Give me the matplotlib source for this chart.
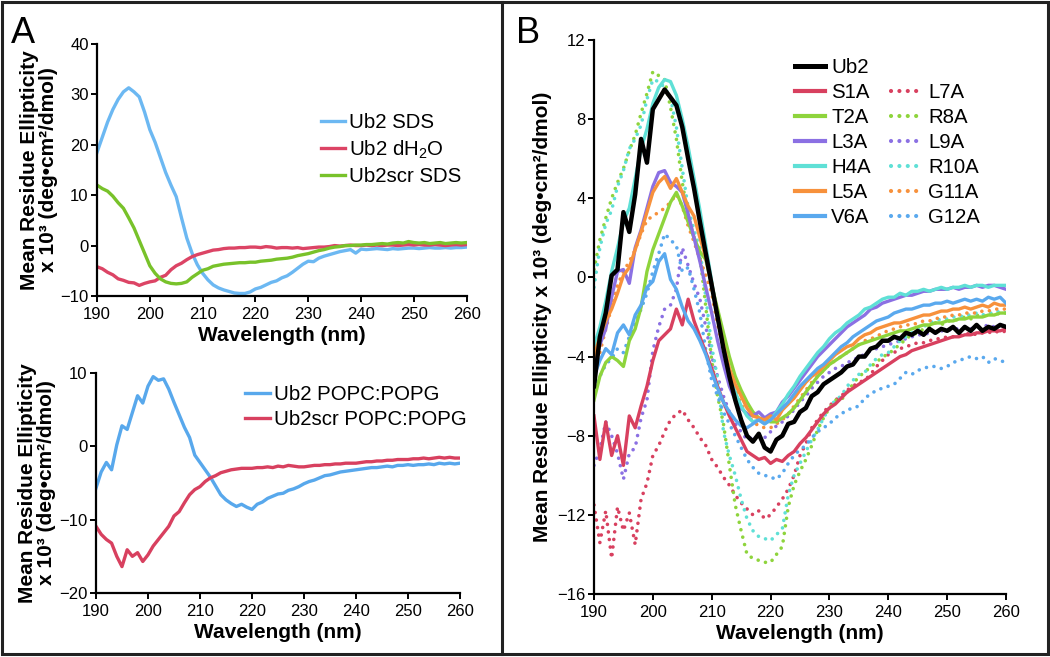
import numpy as np
import matplotlib
matplotlib.use("Agg")
import matplotlib.pyplot as plt
from matplotlib.lines import Line2D
from matplotlib.patches import Rectangle

plt.rcParams["font.family"] = ["Liberation Sans", "DejaVu Sans"]
plt.rcParams["mathtext.fontset"] = "custom"
plt.rcParams["mathtext.rm"] = "Liberation Sans"
plt.rcParams["mathtext.bf"] = "Liberation Sans:bold"

# wavelength grid, 190..260 nm in 1 nm steps
wl = np.arange(190, 261)

# ---- panel A top (SDS / water), x10^3 deg cm2/dmol ----
ub2_sds = [18.5, 21.5, 24.5, 27, 29, 30.5, 31.3, 30.5, 29.5, 26.5,
           23, 20.5, 17.5, 14.5, 12, 9.7, 5.5, 1.5, -1.5, -3.8,
           -5.5, -6.8, -7.8, -8.4, -8.8, -9.1, -9.4, -9.5, -9.5, -9.2,
           -8.6, -8.3, -7.8, -7.3, -7, -6.4, -6, -5.3, -4.5, -3.7,
           -3.1, -3.2, -2.5, -2.1, -1.8, -1.5, -1.2, -1.0, -0.8, -1.5,
           -0.7, -0.8, -0.7, -0.6, -0.7, -0.8, -0.6, -0.7, -0.6, -0.5,
           -0.5, -0.6, -0.5, -0.4, -0.5, -0.5, -0.4, -0.5, -0.4, -0.4,
           -0.3]
ub2_h2o = [-4.2, -4.6, -5.3, -5.8, -6.6, -6.9, -7.3, -7.4, -7.9, -7.5,
           -7.2, -7.0, -6.3, -5.9, -4.8, -4.0, -3.5, -2.8, -2.2, -1.8,
           -1.5, -1.2, -0.9, -0.8, -0.6, -0.5, -0.5, -0.4, -0.4, -0.3,
           -0.3, -0.4, -0.2, -0.3, -0.5, -0.4, -0.4, -0.5, -0.4, -0.6,
           -0.5, -0.4, -0.3, -0.3, -0.2, 0.0, -0.1, 0.0, 0.1, 0.0,
           0.0, 0.1, 0.0, 0.1, 0.0, 0.1, 0.1, 0.0, 0.1, 0.2,
           0.1, 0.2, 0.1, 0.1, 0.2, 0.1, 0.0, 0.1, 0.2, 0.1,
           0.2]
ub2scr_sds = [12, 11.3, 10.8, 9.8, 8.5, 7.4, 5.5, 3.5, 1.0, -1.5,
              -4.0, -5.5, -6.6, -7.2, -7.5, -7.6, -7.5, -7.2, -6.3, -5.6,
              -4.9, -4.6, -4.1, -3.9, -3.7, -3.6, -3.5, -3.4, -3.4, -3.3,
              -3.3, -3.1, -3.0, -2.9, -2.7, -2.6, -2.5, -2.3, -2.0, -1.8,
              -1.6, -1.3, -1.0, -0.8, -0.5, -0.3, -0.2, 0.0, 0.0, 0.1,
              0.1, 0.2, 0.2, 0.3, 0.4, 0.3, 0.5, 0.6, 0.5, 0.8,
              0.6, 0.5, 0.6, 0.4, 0.5, 0.6, 0.4, 0.5, 0.6, 0.5,
              0.6]

# ---- panel A bottom (POPC:POPG vesicles) ----
ub2_popc = [-5.7, -3.5, -2.2, -3.2, 0.2, 2.8, 2.3, 4.6, 6.9, 5.9,
            8.2, 9.5, 9.0, 9.2, 7.8, 6.0, 4.3, 2.6, 1.2, -1.2,
            -2.2, -3.2, -4.2, -5.4, -6.6, -7.3, -7.8, -8.2, -7.9, -8.3,
            -8.6, -7.9, -7.6, -7.1, -6.8, -6.5, -6.4, -6.0, -5.8, -5.5,
            -5.1, -4.8, -4.6, -4.3, -4.0, -3.9, -3.7, -3.5, -3.4, -3.3,
            -3.2, -3.1, -3.0, -2.9, -2.9, -2.8, -2.7, -2.8, -2.6, -2.6,
            -2.5, -2.6, -2.5, -2.5, -2.4, -2.5, -2.3, -2.4, -2.3, -2.4,
            -2.3]
ub2scr_popc = [-10.9, -12.0, -12.7, -13.2, -15.0, -16.4, -14.1, -15.0, -14.5, -15.7,
               -14.8, -13.6, -12.7, -11.8, -10.9, -9.5, -8.9, -7.7, -6.6, -5.9,
               -5.5, -4.8, -4.3, -4.0, -3.6, -3.4, -3.2, -3.1, -3.0, -3.0,
               -3.0, -2.9, -2.9, -2.8, -2.9, -2.7, -2.8, -2.6, -2.7, -2.8,
               -2.8, -2.7, -2.6, -2.6, -2.5, -2.5, -2.4, -2.4, -2.3, -2.3,
               -2.3, -2.2, -2.1, -2.1, -2.0, -2.0, -1.9, -1.9, -1.8, -1.8,
               -1.8, -1.7, -1.7, -1.6, -1.7, -1.6, -1.5, -1.6, -1.5, -1.6,
               -1.6]

# ---- panel B (alanine scan) ----
ub2 = [-5.5, -3.0, -1.8, 0.1, 0.4, 3.3, 2.3, 4.2, 7.0, 5.8,
       8.5, 9.0, 9.5, 9.1, 8.7, 7.6, 6.0, 4.5, 2.8, 1.2,
       -0.4, -2.0, -3.6, -5.0, -6.2, -7.2, -8.0, -8.3, -7.9, -8.6,
       -8.8, -8.2, -8.0, -7.4, -7.3, -6.8, -6.6, -6.0, -5.8, -5.4,
       -5.2, -5.0, -4.8, -4.5, -4.4, -4.0, -4.0, -3.6, -3.5, -3.2,
       -3.2, -3.0, -3.1, -2.8, -2.9, -2.7, -2.9, -2.6, -2.8, -2.6,
       -2.7, -2.5, -2.8, -2.5, -2.7, -2.4, -2.7, -2.5, -2.6, -2.4,
       -2.5]
s1a = [-7.0, -9.2, -7.3, -9.0, -8.0, -9.5, -7.0, -7.6, -6.5, -5.5,
       -4.2, -3.2, -2.9, -2.6, -1.6, -2.4, -1.1, -2.2, -3.0, -3.8,
       -4.6, -5.5, -6.3, -7.0, -7.6, -8.2, -8.8, -9.0, -9.2, -9.1,
       -9.4, -9.2, -9.3, -9.0, -8.8, -8.4, -8.1, -7.7, -7.3, -6.9,
       -6.6, -6.4, -6.1, -5.8, -5.6, -5.4, -5.2, -5.0, -4.8, -4.6,
       -4.4, -4.2, -4.0, -3.9, -3.7, -3.6, -3.5, -3.4, -3.3, -3.2,
       -3.1, -3.0, -3.0, -2.9, -2.9, -2.8, -2.8, -2.7, -2.7, -2.7,
       -2.6]
t2a = [-6.2, -5.0, -4.3, -4.0, -4.2, -4.5, -3.2, -2.6, -1.5, 0.3,
       1.4, 2.2, 3.0, 3.8, 4.3, 3.6, 2.8, 2.0, 1.3, 0.9,
       -0.4, -1.6, -2.8, -4.0, -5.0, -5.7, -6.3, -6.8, -7.1, -7.2,
       -7.3, -7.3, -7.1, -6.9, -6.6, -6.2, -5.8, -5.4, -5.0, -4.7,
       -4.4, -4.2, -4.0, -3.8, -3.6, -3.4, -3.3, -3.2, -3.1, -3.0,
       -2.9, -2.8, -2.7, -2.7, -2.6, -2.5, -2.4, -2.4, -2.3, -2.3,
       -2.2, -2.2, -2.1, -2.1, -2.0, -2.0, -2.0, -1.9, -1.9, -1.8,
       -1.8]
l3a = [-4.5, -3.4, -2.6, -1.0, 0.3, 0.4, -0.3, 1.5, 2.4, 3.5,
       4.6, 5.3, 5.4, 4.8, 4.6, 4.3, 3.2, 2.0, 0.8, -0.5,
       -1.8, -3.2, -4.4, -5.5, -6.2, -6.6, -6.9, -7.0, -6.8, -7.1,
       -6.9, -6.8, -6.3, -6.0, -5.6, -5.2, -4.8, -4.4, -4.0, -3.7,
       -3.4, -3.1, -2.8, -2.5, -2.3, -2.1, -1.9, -1.6, -1.5, -1.3,
       -1.2, -1.1, -1.0, -0.9, -0.9, -0.8, -0.7, -0.7, -0.6, -0.6,
       -0.6, -0.5, -0.6, -0.5, -0.5, -0.4, -0.5, -0.4, -0.4, -0.5,
       -0.6]
h4a = [-3.5, -2.5, -1.2, 0.3, 1.5, 2.8, 3.5, 5.0, 6.5, 7.5,
       8.8, 9.6, 10.0, 9.9, 9.2, 8.0, 6.6, 5.0, 3.4, 1.6,
       -0.2, -2.0, -3.5, -4.8, -5.8, -6.5, -7.0, -7.3, -7.2, -7.4,
       -7.2, -6.8, -6.4, -5.9, -5.5, -5.0, -4.6, -4.2, -3.8, -3.5,
       -3.1, -2.8, -2.6, -2.3, -2.1, -1.9, -1.6, -1.5, -1.3, -1.1,
       -1.0, -1.0, -0.8, -0.9, -0.7, -0.7, -0.6, -0.7, -0.6, -0.5,
       -0.6, -0.5, -0.5, -0.4, -0.5, -0.4, -0.4, -0.5, -0.4, -0.4,
       -0.4]
l5a = [-4.0, -3.0, -2.2, -1.6, -0.8, 0.1, 0.5, 1.4, 2.3, 3.3,
       4.3, 4.8, 5.1, 4.5, 5.0, 4.3, 3.6, 3.1, 2.0, 1.0,
       -0.3, -2.0, -3.4, -4.6, -5.4, -6.0, -6.6, -7.0, -7.1, -7.2,
       -7.0, -7.2, -6.7, -6.4, -6.1, -5.7, -5.3, -5.0, -4.8, -4.5,
       -4.2, -3.9, -3.7, -3.5, -3.4, -3.1, -2.9, -2.8, -2.6, -2.5,
       -2.4, -2.3, -2.3, -2.2, -2.1, -2.0, -1.9, -1.9, -1.8, -1.7,
       -1.7, -1.6, -1.6, -1.5, -1.6, -1.5, -1.4, -1.5, -1.3, -1.4,
       -1.4]
v6a = [-5.0, -4.2, -3.6, -3.9, -2.8, -2.4, -2.9, -1.9, -1.4, -0.5,
       -0.2, 0.8, 1.2, -0.1, -0.6, -1.5, -2.2, -2.6, -3.2, -3.9,
       -4.8, -5.6, -6.3, -6.8, -7.2, -7.5, -7.6, -7.4, -7.2, -7.4,
       -7.2, -6.9, -6.6, -6.3, -5.9, -5.5, -5.2, -4.9, -4.6, -4.4,
       -4.1, -3.8, -3.5, -3.3, -3.0, -2.8, -2.6, -2.4, -2.2, -2.1,
       -2.0, -1.8, -1.7, -1.6, -1.6, -1.5, -1.4, -1.4, -1.3, -1.3,
       -1.2, -1.3, -1.2, -1.1, -1.2, -1.1, -1.2, -1.0, -1.1, -1.0,
       -1.3]
l7a = [-11.5, -13.4, -11.8, -14.2, -11.6, -12.8, -11.9, -13.5, -11.2, -10.4,
       -9.0, -8.5, -7.8, -7.2, -6.9, -6.7, -7.2, -7.6, -8.1, -8.5,
       -9.2, -9.6, -10.1, -10.5, -11.0, -11.4, -11.7, -12.0, -11.8, -12.2,
       -12.0, -11.6, -11.2, -10.7, -10.0, -9.0, -8.4, -7.6, -7.2, -6.8,
       -6.5, -6.2, -6.0, -5.7, -5.5, -5.3, -5.2, -4.9, -4.5, -4.2,
       -3.9, -3.8, -3.6, -3.5, -3.4, -3.3, -3.3, -3.2, -3.1, -3.1,
       -3.0, -3.0, -2.9, -2.9, -2.8, -2.9, -2.8, -2.8, -2.7, -2.8,
       -2.7]
r8a = [0.4, 1.9, 3.0, 4.0, 4.8, 5.5, 6.4, 7.2, 8.3, 9.3,
       10.4, 10.2, 10.0, 8.6, 7.0, 4.8, 3.1, 2.0, 1.1, -1.5,
       -4.2, -6.0, -7.4, -9.5, -11.5, -12.8, -14.0, -14.2, -14.3, -14.4,
       -14.4, -14.0, -13.6, -11.6, -10.5, -9.8, -9.2, -8.5, -7.7, -7.1,
       -6.6, -6.2, -6.2, -5.8, -5.4, -5.0, -4.8, -4.5, -4.3, -4.0,
       -3.9, -3.6, -3.4, -3.1, -2.9, -2.8, -2.6, -2.5, -2.3, -2.4,
       -2.2, -2.2, -2.1, -2.0, -2.1, -1.9, -2.0, -1.8, -1.9, -1.8,
       -1.8]
l9a = [-9.5, -8.7, -7.3, -8.0, -8.9, -10.2, -8.9, -8.6, -7.1, -6.2,
       -3.7, -2.5, -1.6, -1.4, -0.6, 1.5, 0.6, -0.3, -1.1, -2.5,
       -4.0, -5.0, -6.0, -6.8, -7.4, -7.8, -8.2, -8.1, -8.0, -8.1,
       -7.8, -7.5, -7.3, -7.0, -6.7, -6.3, -6.0, -5.6, -5.3, -5.0,
       -4.8, -4.6, -4.5, -4.3, -4.2, -4.0, -3.9, -3.7, -3.6, -3.5,
       -3.4, -3.3, -3.2, -3.1, -3.0, -2.9, -2.9, -2.8, -2.8, -2.7,
       -2.7, -2.6, -2.6, -2.5, -2.6, -2.5, -2.5, -2.4, -2.5, -2.4,
       -2.4]
r10a = [-0.5, 1.5, 2.7, 3.4, 4.6, 5.4, 6.5, 7.0, 7.7, 9.0,
        10.0, 9.9, 9.6, 9.1, 7.6, 5.5, 3.5, 2.4, 1.4, -1.0,
        -3.5, -5.1, -7.8, -9.0, -10.0, -11.2, -12.2, -12.8, -13.1, -13.2,
        -13.3, -13.0, -12.7, -11.0, -10.0, -9.4, -8.8, -8.2, -7.7, -7.1,
        -6.6, -6.2, -6.0, -5.5, -5.2, -4.9, -4.8, -4.4, -4.1, -3.9,
        -3.8, -3.5, -3.2, -3.0, -2.8, -2.6, -2.5, -2.3, -2.2, -2.1,
        -2.1, -2.0, -2.0, -1.9, -1.9, -1.8, -1.9, -1.8, -1.8, -1.7,
        -1.8]
g11a = [-4.5, -3.8, -2.6, -1.5, -0.4, 0.3, 0.8, 1.4, 2.2, 2.9,
        3.1, 3.3, 3.5, 3.8, 4.2, 3.6, 2.6, 1.8, 0.9, 0.1,
        -0.8, -2.4, -3.6, -4.8, -5.7, -6.4, -6.9, -7.3, -7.5, -7.6,
        -7.6, -7.4, -7.2, -6.9, -6.5, -6.1, -5.7, -5.3, -5.0, -4.7,
        -4.4, -4.2, -4.0, -3.8, -3.6, -3.4, -3.2, -3.1, -3.0, -2.8,
        -2.7, -2.6, -2.5, -2.4, -2.4, -2.3, -2.2, -2.2, -2.1, -2.0,
        -2.0, -1.9, -1.9, -1.8, -1.8, -1.8, -1.7, -1.7, -1.6, -1.6,
        -1.6]
g12a = [-5.6, -5.0, -4.4, -4.1, -3.6, -3.8, -3.0, -2.3, -1.6, -0.8,
        0.3, 1.2, 2.2, 1.9, 1.6, 0.3, 0.5, -0.6, -1.8, -3.7,
        -5.2, -6.0, -6.8, -7.4, -8.0, -8.6, -9.2, -9.6, -9.9, -10.0,
        -10.1, -10.2, -9.9, -9.4, -9.0, -8.7, -8.5, -8.1, -7.8, -7.6,
        -7.4, -7.1, -6.9, -6.7, -6.6, -6.5, -6.1, -5.9, -5.7, -5.6,
        -5.5, -5.4, -5.1, -4.8, -4.9, -4.7, -4.6, -4.5, -4.5, -4.6,
        -4.5, -4.3, -4.2, -4.1, -4.0, -4.1, -4.0, -4.3, -4.1, -4.2,
        -4.3]

solid_names = ["S1A", "T2A", "L3A", "H4A", "L5A", "V6A"]
dotted_names = ["L7A", "R8A", "L9A", "R10A", "G11A", "G12A"]
solid_vals = [s1a, t2a, l3a, h4a, l5a, v6a]
dotted_vals = [l7a, r8a, l9a, r10a, g11a, g12a]
pair_colors = ["#d8405f", "#8ed43c", "#8b70e3", "#5fe0d6", "#f7913c", "#5aa9ee"]

LBL = 15
TICK = 12
LEG = 14.7


def style_axes(ax, yticks):
    for s in ("top", "right"):
        ax.spines[s].set_visible(False)
    for s in ("left", "bottom"):
        ax.spines[s].set_linewidth(1.6)
    ax.set_xlim(190, 260)
    ax.set_xticks(range(190, 261, 10))
    ax.set_ylim(yticks[0], yticks[-1])
    ax.set_yticks(yticks)
    ax.tick_params(direction="out", length=4, width=1.4, labelsize=TICK, pad=2)
    ax.tick_params(axis="x", pad=4)
    ax.set_xlabel("Wavelength (nm)", fontsize=LBL, fontweight="bold", labelpad=3)


fig = plt.figure(figsize=(10.5, 6.57), dpi=100)

# ── Panel A, top ────────────────────────────────────────────────────────
ax1 = fig.add_axes([0.0924, 0.5495, 0.352, 0.3836])
ax1.plot(wl, ub2_sds, color="#6cb8f2", lw=2.4, label="Ub2 SDS")
ax1.plot(wl, ub2_h2o, color="#dc4465", lw=2.4, label="Ub2 dH$_2$O")
ax1.plot(wl, ub2scr_sds, color="#78c22a", lw=2.4, label="Ub2scr SDS")
style_axes(ax1, [-10, 0, 10, 20, 30, 40])
ax1.set_ylabel("Mean Residue Ellipticity\nx 10³ (deg•cm²/dmol)",
               fontsize=LBL, fontweight="bold", labelpad=2, linespacing=1.0)
ax1.legend(loc="upper left", bbox_to_anchor=(0.605, 0.725), frameon=False,
           fontsize=LEG, handlelength=1.2, handletextpad=0.2,
           labelspacing=0.3, borderpad=0, borderaxespad=0)

# ── Panel A, bottom ─────────────────────────────────────────────────────
ax2 = fig.add_axes([0.0914, 0.0974, 0.3467, 0.3349])
ax2.plot(wl, ub2_popc, color="#58a8ec", lw=2.4, label="Ub2 POPC:POPG")
ax2.plot(wl, ub2scr_popc, color="#d8405f", lw=2.4, label="Ub2scr POPC:POPG")
style_axes(ax2, [-20, -10, 0, 10])
ax2.set_ylabel("Mean Residue Ellipticity\nx 10³ (deg•cm²/dmol)",
               fontsize=LBL, fontweight="bold", labelpad=2, linespacing=1.0)
ax2.legend(loc="upper left", bbox_to_anchor=(0.41, 0.945), frameon=False,
           fontsize=LEG, handlelength=1.2, handletextpad=0.2,
           labelspacing=0.3, borderpad=0, borderaxespad=0)

# ── Panel B ─────────────────────────────────────────────────────────────
ax3 = fig.add_axes([0.5657, 0.0959, 0.3924, 0.8432])
for name, vals, c in zip(dotted_names, dotted_vals, pair_colors):
    ax3.plot(wl, vals, color=c, lw=2.6, linestyle=(0, (0.01, 2.1)),
             dash_capstyle="round")
for name, vals, c in zip(solid_names, solid_vals, pair_colors):
    ax3.plot(wl, vals, color=c, lw=2.4)
ax3.plot(wl, ub2, color="black", lw=3.2, zorder=5)
style_axes(ax3, [-16, -12, -8, -4, 0, 4, 8, 12])
ax3.set_ylabel("Mean Residue Ellipticity x 10³ (deg•cm²/dmol)",
               fontsize=LBL, fontweight="bold", labelpad=4)

handles = [Line2D([], [], color="black", lw=3.6)]
labels = ["Ub2"]
for name, c in zip(solid_names, pair_colors):
    handles.append(Line2D([], [], color=c, lw=3))
    labels.append(name)
handles.append(Line2D([], [], color="none"))
labels.append(" ")
for name, c in zip(dotted_names, pair_colors):
    handles.append(Line2D([], [], color=c, lw=3, linestyle=(0, (0.01, 2.0)),
                          dash_capstyle="round"))
    labels.append(name)
ax3.legend(handles, labels, ncol=2, loc="upper left",
           bbox_to_anchor=(0.487, 0.968), frameon=False, fontsize=LEG,
           handlelength=1.5, handletextpad=0.3, labelspacing=0.3,
           columnspacing=1.0, borderpad=0, borderaxespad=0)

# panel letters
fig.text(0.010, 0.935, "A", fontsize=26)
fig.text(0.491, 0.935, "B", fontsize=26)

# outer frame and panel divider
fig.add_artist(Rectangle((0.002, 0.004), 0.996, 0.993, transform=fig.transFigure,
                         fill=False, edgecolor="#222222", lw=2.2))
fig.add_artist(Line2D([0.478, 0.478], [0.004, 0.997], transform=fig.transFigure,
                      color="#222222", lw=2.2))

fig.savefig("out.png", dpi=100)
